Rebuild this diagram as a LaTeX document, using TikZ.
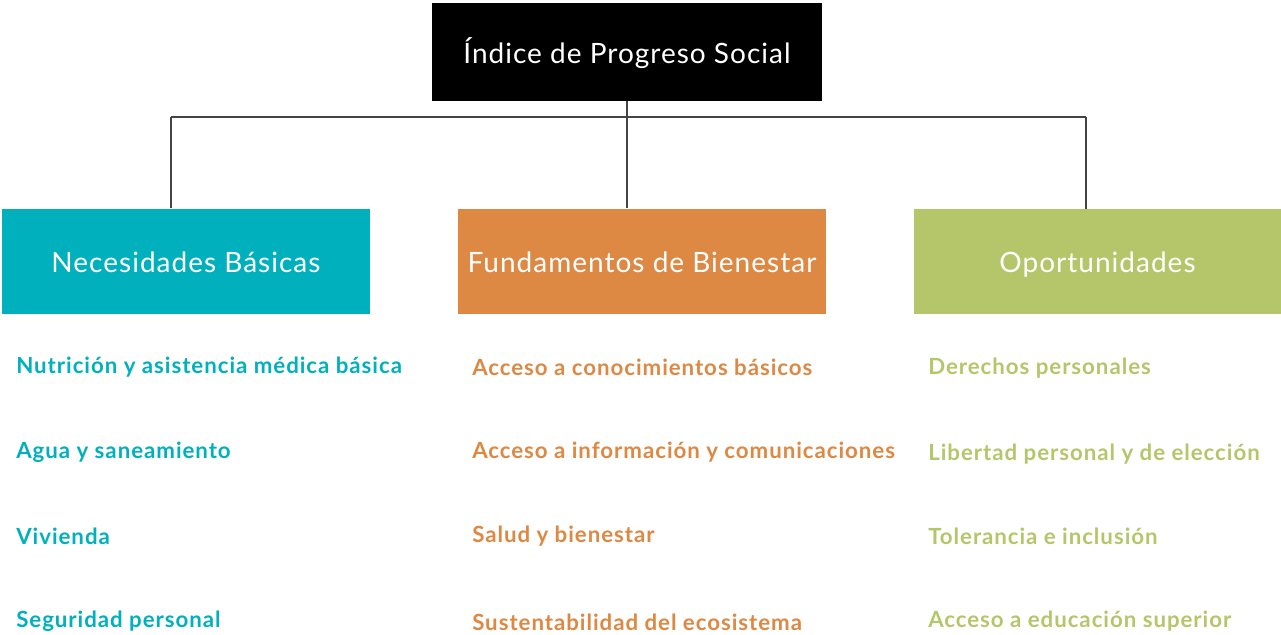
\documentclass[tikz,border=0pt]{standalone}
\usepackage{fontspec}
\setmainfont{Lato}
\newfontfamily\widefont[LetterSpace=3.6]{Lato}
\newfontfamily\itemfont[LetterSpace=4.3]{Lato}
\usetikzlibrary{positioning,calc}
\definecolor{teal}{HTML}{00B0BD}
\definecolor{naranja}{HTML}{DD8843}
\definecolor{verde}{HTML}{B5C66A}
\definecolor{linea}{HTML}{444444}
\tikzset{
  titlebox/.style={
    fill=black,
    text=white,
    minimum width=390*0.75pt,
    minimum height=98*0.75pt,
    inner sep=0pt,
    text height=21pt,
    text depth=3pt,
    font=\widefont\fontsize{21pt}{25pt}\selectfont
  },
  pillar/.style={
    text=white,
    minimum width=368*0.75pt,
    minimum height=105*0.75pt,
    inner sep=0pt,
    text height=20pt,
    text depth=3.5pt,
    font=\widefont\fontsize{21pt}{25pt}\selectfont
  },
  item/.style={
    anchor=west,
    inner sep=0pt,
    font=\itemfont\bfseries\fontsize{16.7pt}{20pt}\selectfont
  },
  link/.style={draw=linea, line width=0.8pt}
}
\begin{document}
\begin{tikzpicture}[x=0.75pt, y=-0.75pt]
\useasboundingbox (0,0) rectangle (1281,635);

\node[titlebox] (ips) at (627,52) {Índice de Progreso Social};

\node[pillar, fill=teal] (nb) at (186,261) {Necesidades Básicas};
\node[pillar, fill=naranja] (fb) at (642,261) {Fundamentos de Bienestar};
\node[pillar, fill=verde] (op) at (1097.5,261.5) {Oportunidades};

% tree connectors
\coordinate (hub) at (627,117);
\coordinate (hl) at (171,117);
\coordinate (hr) at (1086,117);
\draw[link] (ips.south) -- (hub);
\draw[link] (hl) -- (hr);
\draw[link] (hl) -- (hl |- nb.north);
\draw[link] (hub) -- (hub |- fb.north);
\draw[link] (hr) -- (hr |- op.north);

% Necesidades Básicas
\node[item, text=teal] (nb1) at (16,367) {Nutrición y asistencia médica básica};
\node[item, text=teal] (nb2) at (16,452) {Agua y saneamiento};
\node[item, text=teal] (nb3) at (16,536) {Vivienda};
\node[item, text=teal] (nb4) at (16,621) {Seguridad personal};

% Fundamentos de Bienestar
\node[item, text=naranja] (fb1) at (472,367) {Acceso a conocimientos básicos};
\node[item, text=naranja] (fb2) at (472,452) {Acceso a información y comunicaciones};
\node[item, text=naranja] (fb3) at (472,536) {Salud y bienestar};
\node[item, text=naranja] (fb4) at (472,622) {Sustentabilidad del ecosistema};

% Oportunidades
\node[item, text=verde] (op1) at (928,368) {Derechos personales};
\node[item, text=verde] (op2) at (928,454) {Libertad personal y de elección};
\node[item, text=verde] (op3) at (928,536) {Tolerancia e inclusión};
\node[item, text=verde] (op4) at (928,621) {Acceso a educación superior};

\end{tikzpicture}
\end{document}
